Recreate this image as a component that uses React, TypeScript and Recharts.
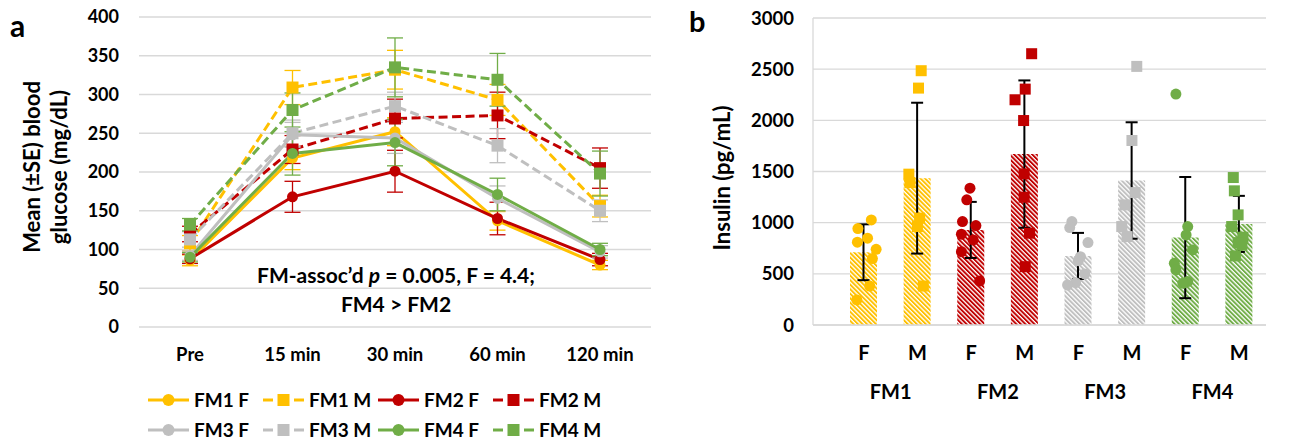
import React from 'react';
import {
  LineChart,
  Line,
  XAxis,
  YAxis,
  CartesianGrid,
  ErrorBar,
  ComposedChart,
  Bar,
  Cell,
  Scatter,
} from 'recharts';

const FONT = 'Lato, "Open Sans", "DejaVu Sans", sans-serif';
const INK = '#000000';
const GRID = '#D9D9D9';

const YELLOW = '#FFC000';
const RED = '#C00000';
const GREY = '#BFBFBF';
const GREEN = '#70AD47';

// ---------- panel a: blood glucose over time ----------
const timePoints = ['Pre', '15 min', '30 min', '60 min', '120 min'];
const glucoseTicks = [0, 50, 100, 150, 200, 250, 300, 350, 400];

const fm1FGlucose = [86, 218, 252, 137, 80];
const fm1MGlucose = [108, 309, 332, 293, 156];
const fm2FGlucose = [88, 168, 201, 140, 87];
const fm2MGlucose = [120, 229, 269, 273, 205];
const fm3FGlucose = [92, 248, 244, 166, 97];
const fm3MGlucose = [113, 250, 285, 234, 150];
const fm4FGlucose = [90, 224, 238, 171, 100];
const fm4MGlucose = [132, 280, 335, 319, 198];

const fm1FSe = [7, 15, 18, 12, 6];
const fm1MSe = [10, 22, 25, 20, 14];
const fm2FSe = [6, 20, 27, 21, 8];
const fm2MSe = [10, 18, 25, 30, 26];
const fm3FSe = [6, 16, 20, 16, 8];
const fm3MSe = [10, 17, 18, 22, 14];
const fm4FSe = [6, 28, 30, 21, 8];
const fm4MSe = [8, 22, 38, 34, 29];

const glucoseSeries = [
  { name: 'FM1 F', values: fm1FGlucose, se: fm1FSe, color: YELLOW, male: false },
  { name: 'FM1 M', values: fm1MGlucose, se: fm1MSe, color: YELLOW, male: true },
  { name: 'FM2 F', values: fm2FGlucose, se: fm2FSe, color: RED, male: false },
  { name: 'FM2 M', values: fm2MGlucose, se: fm2MSe, color: RED, male: true },
  { name: 'FM3 F', values: fm3FGlucose, se: fm3FSe, color: GREY, male: false },
  { name: 'FM3 M', values: fm3MGlucose, se: fm3MSe, color: GREY, male: true },
  { name: 'FM4 F', values: fm4FGlucose, se: fm4FSe, color: GREEN, male: false },
  { name: 'FM4 M', values: fm4MGlucose, se: fm4MSe, color: GREEN, male: true },
];

const glucoseRows = timePoints.map((time, i) => {
  const row: Record<string, string | number> = { time };
  glucoseSeries.forEach((s, k) => {
    row[`g${k}`] = s.values[i];
    row[`e${k}`] = s.se[i];
  });
  return row;
});

// ---------- panel b: insulin by microbiota group and sex ----------
const insulinGroups = ['FM1', 'FM1', 'FM2', 'FM2', 'FM3', 'FM3', 'FM4', 'FM4'];
const insulinSex = ['F', 'M', 'F', 'M', 'F', 'M', 'F', 'M'];
const insulinMean = [711, 1435, 929, 1670, 675, 1412, 854, 988];
const insulinSd = [273, 737, 274, 720, 225, 569, 592, 274];
const insulinColors = [YELLOW, YELLOW, RED, RED, GREY, GREY, GREEN, GREEN];
const insulinTicks = [0, 500, 1000, 1500, 2000, 2500, 3000];

// individual animals (value, horizontal jitter within the bar's slot)
const fm1FInsulin = [1027, 942, 848, 809, 740, 649, 381, 245];
const fm1FJitter = [0.14, -0.11, 0.07, -0.12, 0.23, 0.16, 0.11, -0.13];
const fm1MInsulin = [2485, 2315, 1474, 1392, 1044, 962, 381];
const fm1MJitter = [0.07, 0.02, -0.16, -0.14, 0.04, 0, 0.11];
const fm2FInsulin = [1337, 1223, 1011, 972, 887, 831, 717, 430];
const fm2FJitter = [-0.02, -0.08, -0.16, 0.09, -0.18, 0.04, -0.18, 0.16];
const fm2MInsulin = [2651, 2201, 2305, 1998, 1477, 1249, 897, 570];
const fm2MJitter = [0.13, -0.18, 0.01, -0.02, -0.01, -0.01, 0.09, 0.01];
const fm3FInsulin = [1011, 952, 805, 668, 629, 499, 414, 391];
const fm3FJitter = [-0.12, -0.16, 0.18, 0.04, 0, 0.12, -0.05, -0.2];
const fm3MInsulin = [2527, 1803, 1294, 1174, 962, 864];
const fm3MJitter = [0.09, 0, 0.06, -0.13, -0.19, -0.09];
const fm4FInsulin = [2257, 962, 880, 734, 603, 538, 424, 408];
const fm4FJitter = [-0.18, 0.04, 0.01, 0.13, -0.21, -0.18, 0.04, -0.05];
const fm4MInsulin = [1441, 1311, 1076, 962, 858, 805, 780, 675];
const fm4MJitter = [-0.11, -0.09, -0.02, -0.14, 0.07, -0.02, 0.05, -0.07];

const insulinPoints = [
  { values: fm1FInsulin, jitter: fm1FJitter },
  { values: fm1MInsulin, jitter: fm1MJitter },
  { values: fm2FInsulin, jitter: fm2FJitter },
  { values: fm2MInsulin, jitter: fm2MJitter },
  { values: fm3FInsulin, jitter: fm3FJitter },
  { values: fm3MInsulin, jitter: fm3MJitter },
  { values: fm4FInsulin, jitter: fm4FJitter },
  { values: fm4MInsulin, jitter: fm4MJitter },
];

const insulinRows = insulinMean.map((mean, i) => ({
  sex: insulinSex[i],
  group: insulinGroups[i],
  mean,
  sd: insulinSd[i],
}));

const tickStyle = (size: number) => ({
  fontSize: size,
  fontWeight: 700,
  fill: INK,
  fontFamily: FONT,
});

const glucoseDot = (color: string, square: boolean) => (p: any) => {
  if (p.cx == null || p.cy == null) return <g key={p.index} />;
  return square ? (
    <rect key={p.index} x={p.cx - 6} y={p.cy - 6} width={12} height={12} fill={color} />
  ) : (
    <circle key={p.index} cx={p.cx} cy={p.cy} r={5.5} fill={color} />
  );
};

const pointShape = (color: string, square: boolean) => (p: any) =>
  square ? (
    <rect x={p.cx - 5.5} y={p.cy - 5.5} width={11} height={11} fill={color} />
  ) : (
    <circle cx={p.cx} cy={p.cy} r={5.5} fill={color} />
  );

const hatchColors = [YELLOW, RED, GREY, GREEN];

function GlucosePanel() {
  return (
    <LineChart
      width={660}
      height={370}
      data={glucoseRows}
      margin={{ top: 17, right: 9, left: 0, bottom: 0 }}
    >
      <CartesianGrid vertical={false} stroke={GRID} strokeWidth={1.3} />
      <XAxis
        dataKey="time"
        axisLine={false}
        tickLine={false}
        tickSize={0}
        tickMargin={21}
        height={43}
        interval={0}
        padding={{ left: 51, right: 51 }}
        tick={tickStyle(18.5)}
      />
      <YAxis
        domain={[0, 400]}
        ticks={glucoseTicks}
        axisLine={false}
        tickLine={false}
        tickSize={0}
        tickMargin={20}
        width={139}
        interval={0}
        tick={tickStyle(18)}
      />
      {glucoseSeries.map((s, k) => (
        <Line
          key={s.name}
          type="linear"
          dataKey={`g${k}`}
          name={s.name}
          stroke={s.color}
          strokeWidth={3}
          strokeDasharray={s.male ? '9 4.5' : undefined}
          dot={glucoseDot(s.color, s.male)}
          activeDot={false}
          isAnimationActive={false}
        >
          <ErrorBar dataKey={`e${k}`} width={8} strokeWidth={1.3} stroke={s.color} />
        </Line>
      ))}
    </LineChart>
  );
}

function InsulinPanel() {
  return (
    <ComposedChart
      width={591}
      height={441}
      data={insulinRows}
      margin={{ top: 18, right: 25, left: 0, bottom: 0 }}
    >
      <defs>
        {hatchColors.map((c, i) => (
          <pattern
            key={c}
            id={`hatch-${i}`}
            patternUnits="userSpaceOnUse"
            width={3.2}
            height={3.2}
            patternTransform="rotate(-45)"
          >
            <rect width={3.2} height={3.2} fill="#ffffff" />
            <rect width={1.9} height={3.2} fill={c} />
          </pattern>
        ))}
      </defs>
      <CartesianGrid vertical={false} stroke={GRID} strokeWidth={1.3} />
      <XAxis
        dataKey="sex"
        axisLine={{ stroke: GRID, strokeWidth: 1.3 }}
        tickLine={false}
        tickSize={0}
        tickMargin={21}
        height={40}
        interval={0}
        padding={{ left: 24, right: 0 }}
        tick={tickStyle(20)}
      />
      <XAxis
        xAxisId="grp"
        dataKey="group"
        allowDuplicatedCategory={false}
        axisLine={false}
        tickLine={false}
        tickSize={0}
        tickMargin={20}
        height={76}
        interval={0}
        padding={{ left: 24, right: 0 }}
        tick={tickStyle(20)}
      />
      <XAxis
        xAxisId="pts"
        dataKey="x"
        type="number"
        domain={[0, 8]}
        hide
        padding={{ left: 24, right: 0 }}
      />
      <YAxis
        domain={[0, 3000]}
        ticks={insulinTicks}
        axisLine={{ stroke: GRID, strokeWidth: 1.3 }}
        tickLine={false}
        tickSize={0}
        tickMargin={19}
        width={113}
        interval={0}
        tick={tickStyle(18.5)}
      />
      <Bar dataKey="mean" barSize={27} isAnimationActive={false}>
        {insulinRows.map((r, i) => (
          <Cell key={i} fill={`url(#hatch-${Math.floor(i / 2)})`} />
        ))}
        <ErrorBar dataKey="sd" width={6} strokeWidth={2} stroke={INK} />
      </Bar>
      {insulinPoints.map((g, k) => (
        <Scatter
          key={k}
          xAxisId="pts"
          dataKey="y"
          data={g.values.map((v, i) => ({ x: k + 0.5 + g.jitter[i], y: v }))}
          shape={pointShape(insulinColors[k], insulinSex[k] === 'M')}
          isAnimationActive={false}
        />
      ))}
    </ComposedChart>
  );
}

const legendCols = [148, 263, 378, 493];
const legendRows = [400, 430];

function Overlay() {
  const bold = { fontFamily: FONT, fontWeight: 700, fill: INK };
  return (
    <svg
      width={1291}
      height={441}
      style={{ position: 'absolute', left: 0, top: 0, pointerEvents: 'none' }}
    >
      <text x={10} y={37} fontSize={30} {...bold}>a</text>
      <text x={689} y={32} fontSize={29} {...bold}>b</text>

      <text transform="translate(40,167) rotate(-90)" textAnchor="middle" fontSize={22} {...bold}>
        Mean (±SE) blood
      </text>
      <text transform="translate(67,167) rotate(-90)" textAnchor="middle" fontSize={22} {...bold}>
        glucose (mg/dL)
      </text>
      <text transform="translate(730,178) rotate(-90)" textAnchor="middle" fontSize={22} {...bold}>
        Insulin (pg/mL)
      </text>

      <text x={396} y={283} textAnchor="middle" fontSize={21} {...bold}>
        FM-assoc’d <tspan fontStyle="italic">p</tspan> = 0.005, F = 4.4;
      </text>
      <text x={396} y={312} textAnchor="middle" fontSize={21} {...bold}>
        FM4 &gt; FM2
      </text>

      {glucoseSeries.map((s, k) => {
        const x = legendCols[k % 4];
        const y = legendRows[Math.floor(k / 4)];
        const mid = x + 20.5;
        return (
          <g key={s.name}>
            {s.male ? (
              <>
                <line x1={x} y1={y} x2={x + 10} y2={y} stroke={s.color} strokeWidth={3} />
                <line x1={x + 31} y1={y} x2={x + 41} y2={y} stroke={s.color} strokeWidth={3} />
                <rect x={mid - 6} y={y - 6} width={12} height={12} fill={s.color} />
              </>
            ) : (
              <>
                <line x1={x} y1={y} x2={x + 41} y2={y} stroke={s.color} strokeWidth={3} />
                <circle cx={mid} cy={y} r={6} fill={s.color} />
              </>
            )}
            <text x={x + 46} y={y + 7} fontSize={19} {...bold}>
              {s.name}
            </text>
          </g>
        );
      })}
    </svg>
  );
}

export default function App() {
  return (
    <div
      style={{
        position: 'absolute',
        left: 0,
        top: 0,
        width: 1291,
        height: 441,
        background: '#ffffff',
        fontFamily: FONT,
        overflow: 'hidden',
      }}
    >
      <div style={{ position: 'absolute', left: 0, top: 0 }}>
        <GlucosePanel />
      </div>
      <div style={{ position: 'absolute', left: 700, top: 0 }}>
        <InsulinPanel />
      </div>
      <Overlay />
    </div>
  );
}
